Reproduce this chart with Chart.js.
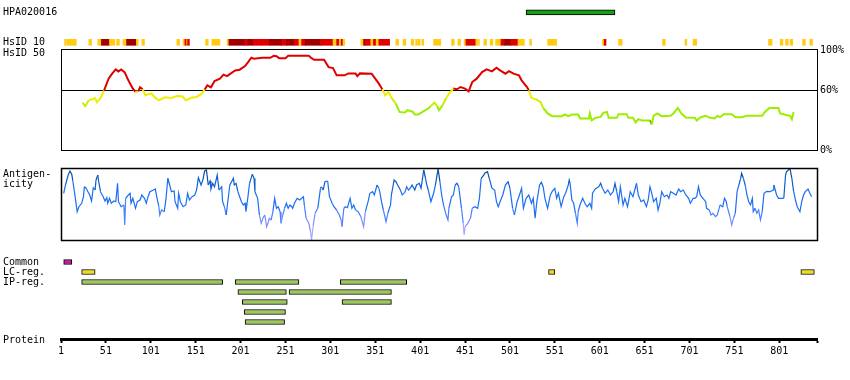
<!DOCTYPE html>
<html><head><meta charset="utf-8">
<script src="https://cdn.jsdelivr.net/npm/chart.js@4/dist/chart.umd.min.js"></script>
<style>
html,body{margin:0;padding:0;background:#fff;}
#wrap{position:relative;width:850px;height:380px;overflow:hidden;font-family:"DejaVu Sans Mono",monospace;font-size:10px;color:#000;background:#fff;}
canvas{position:absolute;left:0;}
.lbl{position:absolute;left:3px;line-height:10px;white-space:pre;}
</style></head><body>
<div id="wrap">
<canvas id="cTrack" width="850" height="56" style="top:0"></canvas>
<canvas id="cHsid" width="850" height="120" style="top:40px"></canvas>
<canvas id="cAnti" width="850" height="90" style="top:160px"></canvas>
<canvas id="cFeat" width="850" height="120" style="top:250px"></canvas>
<div class="lbl" style="top:48px">HsID 50</div>
<div class="lbl" style="top:169px">Antigen-</div>
<div class="lbl" style="top:179px">icity</div>
<div class="lbl" style="top:335px">Protein</div>
</div>
<script>
// ---------- data ----------
const proteinLength = 843;
const trackLabels = ['HPA020016', 'HsID 10'];
const antigenRegion = [[519, 618]];
// [start, end, level] level 0 = low, 1 = high, 2 = very high
const hsid10Blocks = [
 [5,7,0],[8,18,0],[32,35,0],[42,46,0],[46,55,2],[55,61,0],[63,66,0],[70,74,0],[74,85,2],[85,87,0],[91,94,0],
 [130,133,0],[137,139,0],[139,141,1],[141,142,0],[142,144,1],[162,165,0],[169,178,0],[186,188,0],
 [188,206,2],[206,209,1],[209,215,2],[215,224,1],[224,233,1],[233,247,2],[247,252,1],[252,261,2],[261,266,1],[266,269,0],
 [269,273,1],[273,290,2],[290,304,1],[304,308,0],[308,311,1],[311,313,0],[313,315,1],[315,317,0],
 [335,338,0],[338,340,2],[340,346,1],[346,349,0],[349,352,1],[352,355,0],[355,367,1],
 [374,377,0],[382,385,0],[391,394,0],[396,398,0],[399,401,0],[403,405,0],[416,424,0],[436,439,0],[443,446,0],
 [450,452,0],[452,463,1],[463,465,0],[466,467,0],[472,475,0],[479,482,0],[485,491,0],[491,495,1],[495,502,2],[502,510,1],[510,517,0],
 [523,525,0],[543,553,0],[604,606,0],[606,608,1],[622,626,0],[671,674,0],[696,698,0],[705,709,0],
 [789,793,0],[802,805,0],[808,811,0],[813,816,0],[827,830,0],[835,838,0]
];
const hsid10Colors = ['#ffcc11', '#e00000', '#a00000'];

const hsidTicks = [0, 60, 100];
// [residue, % identity]
const hsid50 = [
 [25,47.7],[28,44],[32,50],[39,52],[41,48],[45,52],[49,60],[54,71.7],[58,76.7],[62,81],
 [65,79],[68,81],[72,78],[76,70],[81,61.7],[84,58.3],[87,59],[89,63],[92,61],[95,55],
 [98,56],[102,56.7],[106,52.3],[110,50],[117,53],[124,52.3],[130,54.3],[136,54],[140,50],[143,51],
 [147,52.7],[152,53.3],[158,56.7],[161,60.7],[164,65],[168,63],[172,69.3],[178,71.7],[182,75.7],[186,74.3],
 [189,76.3],[195,80],[200,80.7],[206,84.3],[210,89],[213,92.7],[216,91.7],[225,92.7],[234,92.7],[238,94.7],
 [241,94.3],[244,92.3],[251,92.3],[254,94.7],[277,94.7],[280,92.3],[283,90.7],[294,90.7],[299,83.3],[304,82.3],
 [308,75],[317,75],[321,77],[329,77],[331,74.3],[334,77],[347,76.7],[351,71.7],[355,66.7],[359,60.7],
 [362,55],[366,58.3],[369,52.3],[374,46.7],[378,38.3],[384,37.7],[387,40],[393,38.3],[395,35.7],[399,35.7],
 [405,39],[410,41.7],[413,44.3],[417,47.7],[420,44],[422,40],[426,45],[430,52.3],[434,57.7],[438,61.7],
 [442,61],[446,63.3],[451,61.7],[455,59],[459,68.3],[464,71.7],[470,78.3],[475,81],[481,79],[486,82.7],
 [490,80],[496,76.7],[500,79.3],[505,76.7],[511,75],[514,70],[520,63.3],[522,60],[525,52.3],[530,51],
 [535,48.3],[538,42.3],[543,36.7],[548,34],[559,34],[562,35.7],[566,34],[570,35.7],[577,35.7],[579,31.7],
 [589,31.7],[590,36.7],[592,29.7],[596,32.3],[602,33.3],[605,37.3],[609,38.3],[611,32.3],[620,32.3],[622,36],
 [631,36],[633,32.3],[638,32.3],[641,27.7],[644,31],[648,29.7],[657,29.7],[659,25.7],[661,34.3],[665,36.7],
 [670,34],[680,34.3],[683,36.7],[688,42.3],[692,36.7],[697,32.7],[707,32.3],[709,29.7],[713,32.7],[719,34.3],
 [724,32.3],[729,31.7],[732,34.3],[735,33],[739,36],[748,36],[752,33],[759,33],[765,34.3],[774,34.3],
 [782,34.3],[785,38.3],[790,42.3],[800,42.3],[802,36.7],[810,35],[813,34.3],[815,31],[817,38.3]
];

// [residue, antigenicity score]
const antigenicity = [
 [4,1.07],[6,1.9],[9,2.9],[11,3.3],[13,2.97],[14,2.4],[17,0.57],[19,-0.77],[21,-0.27],[24,0.07],
 [26,0.73],[27,1.73],[29,1.57],[31,1.23],[33,0.9],[35,0.3],[37,1.63],[39,1.4],[40,2.4],[42,2.9],
 [43,2.23],[45,1.23],[48,0.73],[50,0.3],[52,0.63],[53,0.07],[55,0.57],[57,0.07],[60,0.3],[62,0.23],
 [64,2.07],[65,0.23],[68,-0.27],[71,-0.1],[72,-2.1],[73,0.57],[76,0.9],[78,1.07],[79,0.07],[81,0.57],
 [84,-0.43],[86,0.23],[89,0.4],[91,0.9],[94,0.57],[96,0.07],[98,0.73],[100,1.23],[104,1.4],[106,1.5],
 [108,0.57],[110,-0.27],[111,-1.1],[113,-0.6],[116,-0.77],[118,0.57],[120,2.57],[122,1.9],[124,1.23],[127,1.3],
 [128,0.23],[131,-0.43],[132,1.07],[134,0.23],[137,-0.27],[140,-0.1],[142,1.07],[144,0.4],[147,0.73],[150,0.9],
 [152,1.4],[154,2.63],[157,1.9],[159,2.4],[161,3.3],[163,3.4],[165,1.9],[167,2.3],[168,1.5],[170,2.07],
 [172,1.73],[175,2.9],[177,1.4],[180,1.73],[181,0.23],[183,-0.27],[185,-1.1],[187,0.4],[189,1.9],[191,2.23],
 [193,2.57],[194,1.9],[196,2.07],[198,1.23],[200,0.73],[202,0.23],[204,-0.1],[206,0.07],[207,-0.77],[209,0.57],
 [211,2.07],[214,2.97],[216,2.57],[217,1.23],[220,0.57],[222,-1.1],[224,-1.93],[226,-1.43],[228,-1.1],[230,-2.27],
 [232,-1.77],[233,-1.43],[235,-1.6],[237,-0.77],[239,0.57],[241,-0.43],[243,-0.27],[245,-0.77],[246,-1.93],[248,-1.1],
 [250,-0.43],[252,0.07],[254,-0.43],[256,-0.1],[258,-0.27],[259,-0.43],[261,0.07],[264,0.57],[267,0.4],[271,0.73],
 [272,-0.1],[274,-1.43],[277,-1.93],[279,-2.77],[280,-3.6],[282,-2.1],[284,-0.93],[287,-0.43],[290,1.57],[291,1.73],
 [293,1.4],[295,2.23],[298,2.3],[300,0.73],[303,0.07],[305,-0.27],[308,-0.6],[311,-1.1],[313,-1.6],[314,-2.27],
 [316,-0.43],[318,-0.27],[320,-0.37],[323,0.57],[325,-0.43],[327,-0.1],[329,-0.6],[332,-0.77],[335,-1.27],[338,-2.27],
 [340,-0.77],[343,0.23],[345,1.07],[348,1.23],[350,0.9],[353,1.9],[355,1.57],[356,1.23],[358,0.23],[360,-0.6],
 [363,-1.77],[365,-0.93],[368,-0.1],[369,0.9],[372,2.4],[374,2.23],[376,1.9],[379,1.4],[381,0.9],[384,1.17],
 [386,1.73],[388,1.4],[390,1.57],[392,1.9],[395,1.4],[397,1.9],[400,2.07],[402,1.57],[405,3.4],[407,2.57],
 [408,2.07],[410,1.4],[413,0.23],[416,1.07],[418,1.9],[421,3.5],[423,2.23],[425,0.9],[427,-0.1],[430,-1.1],
 [432,-1.6],[433,-0.43],[436,0.73],[438,0.9],[440,1.9],[442,2.07],[444,1.73],[447,-0.43],[449,-1.93],[450,-3.1],
 [451,-2.27],[454,-1.93],[457,-1.43],[459,-0.43],[462,-0.27],[465,-0.43],[467,0.57],[469,2.57],[472,2.9],[473,3.07],
 [476,3.23],[478,2.57],[481,1.57],[484,1.4],[486,0.23],[488,-0.27],[490,0.23],[493,0.9],[496,1.9],[499,2.23],
 [501,1.57],[504,-0.43],[506,-1.1],[509,0.23],[511,0.73],[514,1.57],[516,-0.43],[519,0.57],[522,0.9],[525,0.07],
 [527,0.57],[529,-1.43],[531,0.23],[534,1.9],[536,2.17],[538,1.73],[540,0.57],[543,-0.43],[546,0.9],[548,1.23],
 [551,1.57],[553,0.57],[555,1.07],[558,-0.27],[561,0.73],[563,1.07],[566,1.9],[567,2.4],[568,2.07],[570,0.4],
 [572,0.07],[574,-0.93],[576,-1.93],[577,-0.77],[579,-0.1],[582,0.57],[585,-0.03],[587,-0.27],[590,0.07],[592,-0.43],
 [593,1.07],[596,1.5],[600,1.73],[602,2.07],[604,1.57],[607,1.07],[610,1.4],[613,0.9],[616,1.23],[618,2.07],
 [620,1.23],[622,0.23],[624,1.73],[627,-0.1],[629,0.57],[632,-0.27],[635,1.23],[638,0.73],[640,1.4],[642,2.07],
 [644,0.9],[647,0.23],[650,0.4],[653,-0.27],[655,0.4],[657,1.73],[659,1.07],[661,0.23],[664,0.57],[666,-0.6],
 [668,0.07],[670,1.23],[673,0.73],[676,0.9],[678,0.57],[680,1.23],[683,1.07],[686,0.9],[689,1.5],[691,1.23],
 [694,1.4],[697,0.9],[700,0.57],[702,0.07],[705,0.57],[707,0.57],[709,0.73],[711,1.73],[713,0.9],[716,0.57],
 [719,0.23],[720,-0.43],[723,-0.6],[725,-1.1],[727,-0.93],[730,-1.27],[732,-1.1],[735,-0.1],[738,-0.27],[740,0.57],
 [742,0.23],[743,-0.27],[746,-1.27],[748,-2.1],[750,-1.43],[752,-0.93],[754,1.23],[756,1.9],[758,2.57],[759,3.07],
 [761,2.57],[763,1.9],[765,0.9],[767,0.23],[769,-0.1],[771,0.57],[772,-0.77],[774,-0.43],[776,-0.93],[778,-0.6],
 [780,-1.6],[782,-0.77],[784,1.07],[787,1.27],[791,1.23],[794,1.4],[795,1.9],[798,0.9],[800,0.57],[803,0.57],
 [806,0.57],[808,2.9],[809,3.23],[811,3.4],[813,3.5],[815,2.57],[817,1.23],[819,0.4],[821,-0.27],[824,-0.77],
 [826,0.23],[828,0.9],[830,1.23],[833,1.5],[835,1.07],[837,0.73]
];

const featureLabels = ['Common', 'LC-reg.', 'IP-reg.'];
const commonRegions = [[4, 13]];
const lcRegions = [[24, 39], [544, 551], [825, 840]];
// [start, end, lane]
const ipRegions = [[24,181,0],[195,266,0],[312,386,0],[198,252,1],[255,369,1],[203,253,2],[314,369,2],[205,251,3],[206,250,4]];
const axisTicks = [1,51,101,151,201,251,301,351,401,451,501,551,601,651,701,751,801];

// ---------- styling helpers ----------
Chart.defaults.font.family = '"DejaVu Sans Mono", monospace';
Chart.defaults.font.size = 10;
Chart.defaults.color = '#000';

function hsidColor(v) {
  if (v >= 60) return '#e00000';
  if (v >= 50) return '#f0ee00';
  if (v >= 44) return '#ccee00';
  if (v >= 29) return '#9cee00';
  return '#66bb00';
}
function antiColor(v) {
  if (v >= 2.6) return '#0b4ea6';
  if (v >= 1.6) return '#0d5fd0';
  if (v >= -0.6) return '#1c6ff2';
  if (v >= -1.5) return '#4a80ff';
  if (v >= -2.5) return '#7d8cff';
  return '#a8a6ff';
}
const boxPlugin = (lw) => ({
  id: 'box',
  afterDraw(chart) {
    const a = chart.chartArea, c = chart.ctx;
    c.save(); c.strokeStyle = '#000'; c.lineWidth = lw;
    c.strokeRect(Math.round(a.left) + 0.5, Math.round(a.top) + 0.5, Math.round(a.right - a.left), Math.round(a.bottom - a.top));
    c.restore();
  }
});
const common = {responsive: false, animation: false, events: [], plugins: {legend: {display: false}, tooltip: {enabled: false}}};
const xHidden = {type: 'linear', min: 1, max: proteinLength, display: false};

// ---------- top tracks ----------
new Chart(document.getElementById('cTrack'), {
  type: 'bar',
  data: {datasets: [
    {data: antigenRegion.map(([s, e]) => ({x: [s, e], y: 0})), backgroundColor: '#1a9e1a', borderColor: '#000', borderWidth: 1, borderSkipped: false, barThickness: 5, grouped: false},
    {data: hsid10Blocks.map(([s, e]) => ({x: [s, e], y: 1})), backgroundColor: hsid10Blocks.map(b => hsid10Colors[b[2]]), borderWidth: 0, barThickness: 6, grouped: false}
  ]},
  options: Object.assign({}, common, {
    indexAxis: 'y',
    layout: {padding: {left: 3, right: 33, top: 6, bottom: 8}},
    scales: {
      x: xHidden,
      y: {type: 'linear', reverse: true, offset: false, min: -0.21, max: 1.19,
          grid: {display: false}, border: {display: false},
          afterBuildTicks: s => { s.ticks = trackLabels.map((_, i) => ({value: i})); },
          afterFit: s => { s.width = 58; },
          ticks: {crossAlign: 'far', padding: 0, callback: v => trackLabels[v]}}
    }
  })
});

// ---------- HsID 50 ----------
new Chart(document.getElementById('cHsid'), {
  type: 'line',
  data: {datasets: [{
    data: hsid50.map(([r, v]) => ({x: r, y: v})),
    borderWidth: 2, pointRadius: 0, borderColor: '#e00000', tension: 0,
    segment: {borderColor: ctx => hsidColor((ctx.p0.parsed.y + ctx.p1.parsed.y) / 2)}
  }]},
  options: Object.assign({}, common, {
    layout: {padding: {left: 61, right: 0, top: 8, bottom: 10}},
    scales: {
      x: xHidden,
      y: {type: 'linear', position: 'right', min: 0, max: 101.5,
          afterBuildTicks: s => { s.ticks = hsidTicks.map(v => ({value: v})); },
          afterFit: s => { s.width = 33; },
          grid: {drawTicks: false, lineWidth: 1, color: c => (c.tick && c.tick.value === 60) ? '#000' : 'rgba(0,0,0,0)'},
          border: {display: false},
          ticks: {padding: 3, callback: v => v + '%'}}
    }
  }),
  plugins: [boxPlugin(1)]
});

// ---------- Antigenicity ----------
new Chart(document.getElementById('cAnti'), {
  type: 'line',
  data: {datasets: [{
    data: antigenicity.map(([r, v]) => ({x: r, y: v})),
    borderWidth: 1.2, pointRadius: 0, borderColor: '#1c6ff2', tension: 0,
    segment: {borderColor: ctx => antiColor((ctx.p0.parsed.y + ctx.p1.parsed.y) / 2)}
  }]},
  options: Object.assign({}, common, {
    layout: {padding: {left: 61, right: 33, top: 8, bottom: 10}},
    scales: {x: xHidden, y: {type: 'linear', min: -3.6, max: 3.6, display: false}}
  }),
  plugins: [boxPlugin(1.5)]
});

// ---------- Features + protein axis ----------
new Chart(document.getElementById('cFeat'), {
  type: 'bar',
  data: {datasets: [
    {data: commonRegions.map(([s, e]) => ({x: [s, e], y: 0})), backgroundColor: '#c8189c', borderColor: '#000', borderWidth: 1, borderSkipped: false, barThickness: 5, grouped: false},
    {data: lcRegions.map(([s, e]) => ({x: [s, e], y: 1})), backgroundColor: '#ecdc26', borderColor: '#000', borderWidth: 1, borderSkipped: false, barThickness: 5, grouped: false},
    {data: ipRegions.map(([s, e, l]) => ({x: [s, e], y: 2 + l})), backgroundColor: '#9ec65c', borderColor: '#000', borderWidth: 1, borderSkipped: false, barThickness: 5, grouped: false}
  ]},
  options: Object.assign({}, common, {
    indexAxis: 'y',
    layout: {padding: {left: 3, right: 33, top: 7, bottom: 0}},
    scales: {
      x: {type: 'linear', min: 1, max: proteinLength, position: 'bottom',
          afterBuildTicks: s => { s.ticks = axisTicks.concat([proteinLength]).map(v => ({value: v})); },
          afterFit: s => { s.height = 31; },
          grid: {drawOnChartArea: false, drawTicks: true, tickLength: 4, tickWidth: 2, tickColor: '#000', color: '#000'},
          border: {display: true, color: '#000', width: 3},
          ticks: {padding: 2, autoSkip: false, maxRotation: 0, callback: v => axisTicks.includes(v) ? String(v) : ''}},
      y: {type: 'linear', reverse: true, offset: false, min: -0.5, max: 7.7,
          grid: {display: false}, border: {display: false},
          afterBuildTicks: s => { s.ticks = featureLabels.map((_, i) => ({value: i})); },
          afterFit: s => { s.width = 58; },
          ticks: {crossAlign: 'far', padding: 0, callback: v => featureLabels[v]}}
    }
  })
});
</script>
</body></html>
